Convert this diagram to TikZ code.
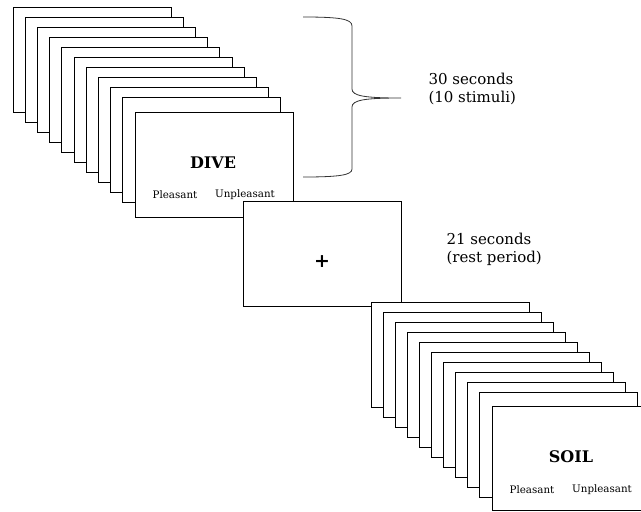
\documentclass[tikz,border=0pt]{standalone}
\usepackage{fontspec}
\setmainfont{DejaVu Serif}
\begin{document}
\begin{tikzpicture}[x=1pt,y=-1pt,
  card/.style={draw=black, fill=white, line width=0.9pt, minimum width=158pt, minimum height=105pt, anchor=north west, inner sep=0pt, outer sep=0pt},
  word/.style={font=\fontsize{16}{18}\selectfont\bfseries},
  choice/.style={font=\fontsize{10.3}{12}\selectfont},
  label/.style={font=\fontsize{15}{18}\selectfont, anchor=west, align=left},
  bracestyle/.style={draw=black!80, line width=0.8pt}]
\useasboundingbox (0,0) rectangle (641,512);
\clip (0,0) rectangle (641,512);
% top stack
\foreach \i in {0,...,9} {
  \node[card] (t\i) at (13+12.2*\i, 7+10.1*\i) {};
}
\node[card] (tf) at (135,112) {};
\node[word] (dive) at (213,163) {DIVE};
\node[choice] (p1) at (175,195) {Pleasant};
\node[choice] (u1) at (245,195) {Unpleasant};
% fixation
\node[card] (fix) at (243,201) {};
\node[font=\fontsize{19}{20}\selectfont\bfseries] (plus) at (322,262) {+};
% bottom stack
\foreach \i in {0,...,9} {
  \node[card] (b\i) at (371+12.1*\i, 302+10*\i) {};
}
\node[card, minimum height=104pt] (bf) at (492,406) {};
\node[word] (soil) at (571,457) {SOIL};
\node[choice] (p2) at (532,490) {Pleasant};
\node[choice] (u2) at (602,490) {Unpleasant};
% brace
\draw[bracestyle] (303,17) .. controls (340,17) and (352,19) .. (352,26) -- (352,89)
  .. controls (352,96) and (365,98) .. (401,98)
  .. controls (365,98) and (352,100) .. (352,107) -- (352,169)
  .. controls (352,175) and (340,177) .. (303,177);
% labels
\node[label] (l1) at (425,89) {30 seconds\\(10 stimuli)};
\node[label] (l2) at (443,249) {21 seconds\\(rest period)};
\end{tikzpicture}
\end{document}
